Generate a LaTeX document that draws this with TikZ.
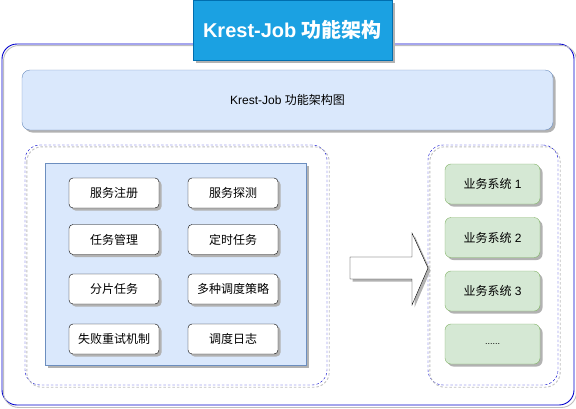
\documentclass[tikz,border=0pt]{standalone}
\usepackage{fontspec}
\setmainfont{Liberation Sans}
\newfontfamily\cjk{Noto Sans CJK SC}
\usetikzlibrary{shadows, positioning}
\definecolor{titleblue}{HTML}{1BA1E2}
\definecolor{titleedge}{HTML}{006EAF}
\definecolor{paleblue}{HTML}{DAE8FC}
\definecolor{blueedge}{HTML}{6C8EBF}
\definecolor{palegreen}{HTML}{D5E8D4}
\definecolor{greenedge}{HTML}{82B366}
\definecolor{frameblue}{HTML}{0000CC}

\begin{document}
\begin{tikzpicture}[x=1pt, y=-1pt, font=\fontsize{12}{14}\selectfont,
  shade/.style = {drop shadow={shadow xshift=2.5pt, shadow yshift=-2.5pt, fill=black!30, opacity=1}},
  framebox/.style = {draw=frameblue, line width=0.9pt, rounded corners=15pt, inner sep=0pt},
  groupbox/.style = {draw=frameblue, dashed, dash pattern=on 2.5pt off 2pt, rounded corners=15pt, inner sep=0pt},
  ghost/.style = {draw=black!25, line width=0.9pt},
  titlebox/.style = {draw=titleedge, fill=titleblue, text=white, shade, inner sep=0pt,
    minimum width=199pt, minimum height=60pt, font=\fontsize{20}{24}\selectfont\bfseries},
  headbox/.style = {draw=blueedge, fill=paleblue, shade, rounded corners=8pt, inner sep=0pt,
    minimum width=531pt, minimum height=60pt},
  panel/.style = {draw=blueedge, fill=paleblue, shade, inner sep=0pt},
  featbox/.style = {draw=black, fill=white, shade, rounded corners=4pt, inner sep=0pt,
    minimum width=90pt, minimum height=30pt, font=\fontsize{12}{14}\selectfont\cjk},
  sysbox/.style = {draw=greenedge, fill=palegreen, shade, rounded corners=6pt, inner sep=0pt,
    minimum width=95pt, minimum height=40pt}
]
\useasboundingbox (0,0) rectangle (576,408);

% outer frame
\node[framebox, minimum width=572pt, minimum height=361pt] (frame) at (288,224.5) {};
\draw[ghost, rounded corners=15pt] ([shift={(2,2)}]frame.north west) rectangle ([shift={(2,2)}]frame.south east);

\node[headbox] (head) at (287.5,100) {Krest-Job {\cjk 功能架构图}};

% left group
\node[groupbox, minimum width=302pt, minimum height=240pt] (leftgroup) at (176,265) {};
\draw[ghost, dashed, dash pattern=on 2.5pt off 2pt, rounded corners=15pt] ([shift={(2,2)}]leftgroup.north west) rectangle ([shift={(2,2)}]leftgroup.south east);
\node[panel, minimum width=261pt, minimum height=202pt] (features) at (175.5,264) {};

\node[featbox] (register) at (114,193) {服务注册};
\node[featbox] (probe) at (233,193) {服务探测};
\node[featbox] (manage) at (114,239.5) {任务管理};
\node[featbox] (timer) at (233,239.5) {定时任务};
\node[featbox] (shard) at (114,289) {分片任务};
\node[featbox] (strategy) at (233,289) {多种调度策略};
\node[featbox] (retry) at (114,339) {失败重试机制};
\node[featbox] (log) at (233,339) {调度日志};

% right group
\node[groupbox, minimum width=130pt, minimum height=240pt] (rightgroup) at (493,265) {};
\draw[ghost, dashed, dash pattern=on 2.5pt off 2pt, rounded corners=15pt] ([shift={(2,2)}]rightgroup.north west) rectangle ([shift={(2,2)}]rightgroup.south east);

\node[sysbox] (sys1) at (492.5,184) {{\cjk 业务系统} 1};
\node[sysbox] (sys2) at (492.5,237.5) {{\cjk 业务系统} 2};
\node[sysbox] (sys3) at (492.5,291) {{\cjk 业务系统} 3};
\node[sysbox] (more) at (492.5,344) {{\fontsize{9}{10}\selectfont ......}};

% big arrow
\draw[fill=white, shade, line join=miter] (350,257) -- (412,257) -- (412,233) -- (428,268) -- (412,305) -- (412,279) -- (350,279) -- cycle;

\node[titlebox] (title) at (292.5,30) {Krest-Job {\cjk 功能架构}};
\end{tikzpicture}
\end{document}
